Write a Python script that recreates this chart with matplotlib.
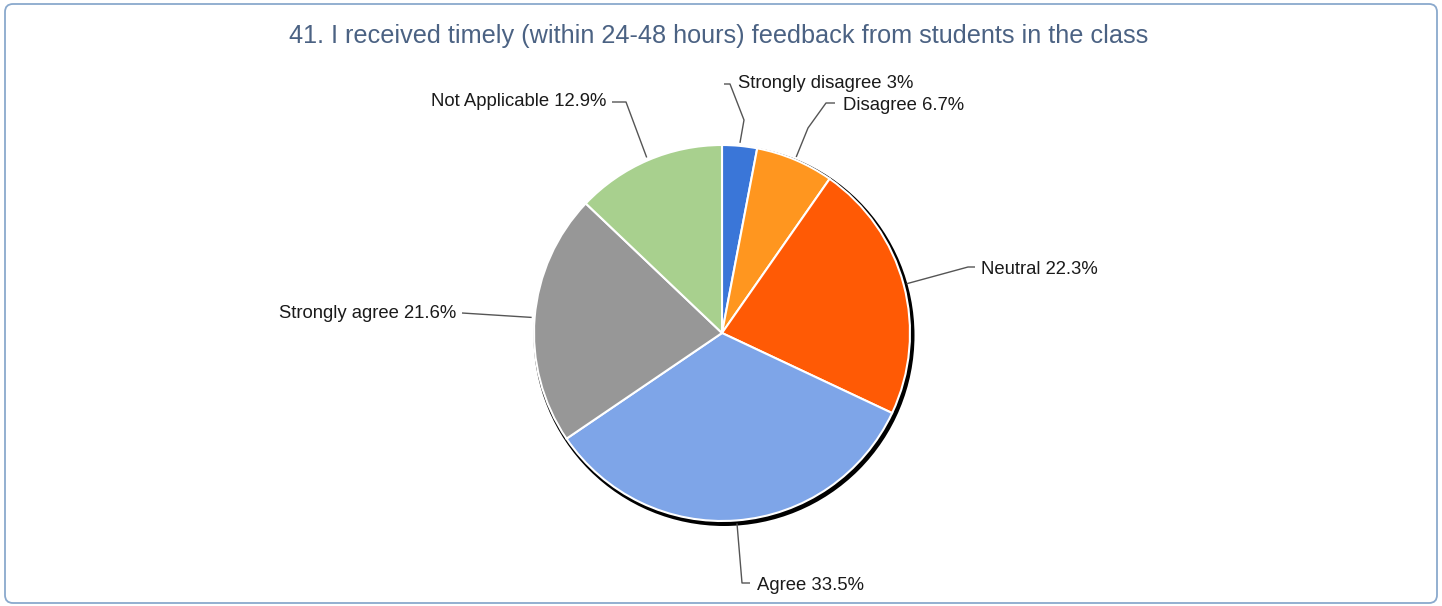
import numpy as np
import matplotlib
matplotlib.use("Agg")
import matplotlib.pyplot as plt
from matplotlib.patches import FancyBboxPatch, Circle

title = "41. I received timely (within 24-48 hours) feedback from students in the class"
categories = ["Strongly disagree", "Disagree", "Neutral", "Agree", "Strongly agree", "Not Applicable"]
values = [3.0, 6.7, 22.3, 33.5, 21.6, 12.9]
value_labels = ["3%", "6.7%", "22.3%", "33.5%", "21.6%", "12.9%"]
colors = ["#3a76d8", "#ff961f", "#ff5a05", "#7ea5e8", "#979797", "#a8d08e"]

W, H = 1442, 606
fig = plt.figure(figsize=(W / 100, H / 100), dpi=100)
ax = fig.add_axes([0, 0, 1, 1])
ax.set_xlim(0, W)
ax.set_ylim(0, H)
ax.set_aspect("equal")
ax.axis("off")

plt.rcParams['font.family'] = ['Liberation Sans', 'DejaVu Sans']

# frame
frame = FancyBboxPatch((5, 3), W - 10, H - 7, boxstyle="round,pad=0,rounding_size=8",
                       fc="white", ec="#8aa9cd", lw=1.3, zorder=0)
ax.add_patch(frame)

ax.text(W / 2 - 2, H - 36, title, ha="center", va="center", fontsize=18.2, color="#4b6283")

cx, cy, r = 722, H - 333, 188
# shadow
ax.add_patch(Circle((cx + 2.0, cy - 2.5), r + 2.5, fc="black", ec="none", zorder=1))
wedges, _ = ax.pie(values, colors=colors, startangle=90, counterclock=False,
                   center=(cx, cy), radius=r, frame=True,
                   wedgeprops=dict(edgecolor="white", linewidth=1.5, zorder=2))
ax.set_xlim(0, W)
ax.set_ylim(0, H)
ax.axis("off")

# label layout: (elbow point(s) in px from top-left, text x, text y, ha)
layout = {
    "Strongly disagree": ([(744, 120), (730, 84), (724, 84)], 738, 83, "left"),
    "Disagree": ([(808, 128), (826, 103), (835, 103)], 843, 106, "left"),
    "Neutral": ([(968, 267), (975, 267)], 981, 269, "left"),
    "Agree": ([(742, 583), (750, 583)], 757, 585, "left"),
    "Strongly agree": ([(462, 313)], 456, 314, "right"),
    "Not Applicable": ([(626, 102), (612, 102)], 606, 102, "right"),
}
for w, cat, lab in zip(wedges, categories, value_labels):
    ang = np.deg2rad((w.theta1 + w.theta2) / 2)
    sx, sy = cx + (r + 3) * np.cos(ang), cy + (r + 3) * np.sin(ang)
    pts, tx, ty, ha = layout[cat]
    xs = [sx] + [p[0] for p in pts]
    ys = [sy] + [H - p[1] for p in pts]
    ax.plot(xs, ys, color="#555555", lw=1, zorder=3, solid_capstyle="butt")
    ax.text(tx, H - ty, f"{cat} {lab}", ha=ha, va="center", fontsize=13.3, color="#1a1a1a")

fig.savefig("out.png", dpi=100)
